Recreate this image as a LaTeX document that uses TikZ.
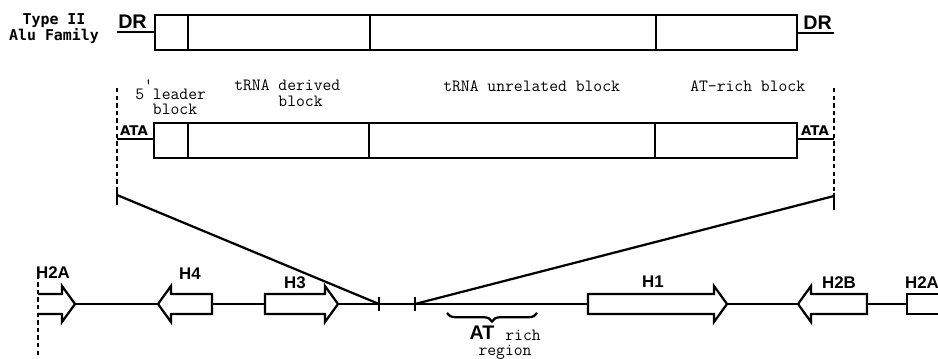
\documentclass[tikz,border=0pt]{standalone}
\usepackage{fontspec}
\setsansfont{Liberation Sans}
\newfontfamily\titlefont{DejaVu Sans Mono}
\newfontfamily\tagfont{DejaVu Sans}
\usetikzlibrary{decorations.pathreplacing}
\tikzset{
  seg/.style={draw, line width=1.6pt},
  gene/.style={draw, line width=1.6pt, line join=miter},
  strand/.style={line width=1.6pt},
  cut/.style={line width=1.6pt, dash pattern=on 3.2pt off 2.2pt},
  lbl/.style={font=\fontsize{12.2}{11.2}\selectfont\ttfamily, inner sep=0pt, align=left},
  tag/.style={font=\fontsize{9.5}{10}\selectfont\tagfont\bfseries, inner sep=0pt},
  hlbl/.style={font=\fontsize{12}{13}\selectfont\sffamily\bfseries, inner sep=0pt},
  drlbl/.style={font=\fontsize{14}{15}\selectfont\sffamily\bfseries, inner sep=0pt}
}
\newcommand\gby{304}
% gene arrow: name, tail x, tip x
\newcommand\gene[3]{%
  \pgfmathsetmacro\hb{#3-13*sign(#3-#2)}
  \draw[gene] (#2,\gby-10) -- (\hb,\gby-10) -- (\hb,\gby-18) -- (#3,\gby)
    -- (\hb,\gby+18) -- (\hb,\gby+10) -- (#2,\gby+10) -- cycle;
  \coordinate (#1-tail) at (#2,\gby);
  \coordinate (#1-tip) at (#3,\gby);}

\begin{document}
\begin{tikzpicture}[x=0.025cm, y=-0.025cm]
  \useasboundingbox (0,0) rectangle (938,359);
  % Alu family unit
  \node[font=\fontsize{10.6}{11.3}\selectfont\titlefont\bfseries, align=center,
        inner sep=0pt] (title) at (54,29) {Type II\\Alu Family};
  \draw[seg] (155,15) rectangle (797,50);
  \foreach \x in {188,370,656} \draw[seg] (\x,15) -- (\x,50);
  \coordinate (aluL) at (155,32);
  \coordinate (aluR) at (797,33);
  \coordinate (drL) at (117,32);
  \coordinate (drR) at (834,33);
  \draw[strand] (drL) -- (aluL);
  \draw[strand] (aluR) -- (drR);
  \node[drlbl, anchor=south west] (drl) at (118,29) {DR};
  \node[drlbl, anchor=south west] (drr) at (803,30) {DR};
  % expanded unit
  \draw[seg] (154,123) rectangle (797,158);
  \foreach \x in {188,369,655} \draw[seg] (\x,123) -- (\x,158);
  \coordinate (boxL) at (154,139);
  \coordinate (boxR) at (797,139);
  \coordinate (cutLt) at (117,88);
  \coordinate (cutLm) at (117,188);
  \coordinate (cutLb) at (117,205);
  \coordinate (fanL) at (117,195);
  \coordinate (cutRt) at (834,88);
  \coordinate (cutRm) at (834,193);
  \coordinate (cutRb) at (834,210);
  \coordinate (fanR) at (834,196);
  \draw[cut] (cutLt) -- (cutLm);
  \draw[strand] (cutLm) -- (cutLb);
  \draw[cut] (cutRt) -- (cutRm);
  \draw[strand] (cutRm) -- (cutRb);
  \draw[strand] (117,139) -- (boxL);
  \draw[strand] (boxR) -- (834,139);
  \node[tag] (ataL) at (134,131) {ATA};
  \node[tag] (ataR) at (815,131) {ATA};
  \node[lbl, anchor=north west] (lead) at (135,80)
    {5\rlap{\raisebox{1.1ex}{\textquotesingle}}\ leader\\\phantom{5 }block};
  \node[lbl, anchor=north west] (deriv) at (234,80)
    {tRNA derived\\\phantom{tRNA }block};
  \node[lbl, anchor=north west] (unrel) at (443,81) {tRNA unrelated block};
  \node[lbl, anchor=north west] (atblk) at (690,81) {AT-rich block};
  % histone gene cluster
  \draw[cut] (38,267) -- (38,355);
  \draw[gene] (38,\gby-10) -- (62,\gby-10) -- (62,\gby-18) -- (75,\gby)
    -- (62,\gby+18) -- (62,\gby+10) -- (38,\gby+10);
  \coordinate (h2aL-tip) at (75,\gby);
  \gene{h4}{212}{158}
  \gene{h3}{265}{338}
  \gene{h1}{588}{727}
  \gene{h2b}{867}{798}
  \draw[gene] (938,\gby-10) -- (907,\gby-10) -- (907,\gby+10) -- (938,\gby+10);
  \coordinate (h2aR-tail) at (907,\gby);
  \coordinate (tickL) at (379,\gby);
  \coordinate (tickR) at (415,\gby);
  \draw[strand] (h2aL-tip) -- (h4-tip);
  \draw[strand] (h4-tail) -- (h3-tail);
  \draw[strand] (h3-tip) -- (h1-tail);
  \draw[strand] (h1-tip) -- (h2b-tip);
  \draw[strand] (h2b-tail) -- (h2aR-tail);
  \draw[strand] (tickL) ++(0,-7) -- ++(0,14);
  \draw[strand] (tickR) ++(0,-7) -- ++(0,14);
  \draw[strand] (fanL) -- (tickL);
  \draw[strand] (fanR) -- (tickR);
  \node[hlbl] (h2al) at (53,273) {H2A};
  \node[hlbl] (h4l) at (190,274) {H4};
  \node[hlbl] (h3l) at (295,283) {H3};
  \node[hlbl] (h1l) at (653,282) {H1};
  \node[hlbl] (h2bl) at (839,283) {H2B};
  \node[hlbl] (h2arl) at (922,283) {H2A};
  % AT rich stretch
  \draw[line width=1.6pt, decorate, decoration={brace, mirror, amplitude=6pt}]
    (447,313) -- (537,313);
  \node[font=\fontsize{14}{14}\selectfont\sffamily\bfseries, inner sep=0pt]
    (atl) at (482,333) {AT};
  \node[lbl] (rich) at (523,335) {rich};
  \node[lbl] (region) at (505,352) {region};
\end{tikzpicture}
\end{document}
